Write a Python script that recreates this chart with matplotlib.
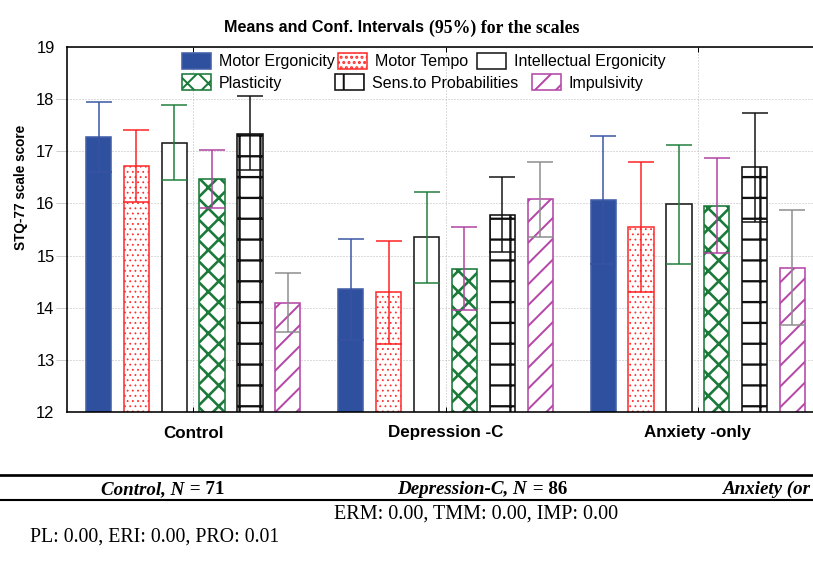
import matplotlib
matplotlib.use('Agg')
import matplotlib.pyplot as plt
import numpy as np
from matplotlib import font_manager as fm
from matplotlib.lines import Line2D

DPI = 125
W, H = 813, 566


def pt(px):
    return px * 72.0 / DPI


# ---------------- data ----------------
groups = ['Control', 'Depression -C', 'Anxiety -only']
scales = ['Motor Ergonicity', 'Motor Tempo', 'Intellectual Ergonicity',
          'Plasticity', 'Sens.to Probabilities', 'Impulsivity']

mean_me = [17.28, 14.35, 16.07]
mean_mt = [16.71, 14.30, 15.55]
mean_ie = [17.16, 15.35, 15.98]
mean_pl = [16.47, 14.75, 15.96]
mean_pro = [17.34, 15.78, 16.70]
mean_imp = [14.10, 16.08, 14.77]

upper_me = [17.95, 15.32, 17.30]
upper_mt = [17.41, 15.28, 16.80]
upper_ie = [17.88, 16.22, 17.12]
upper_pl = [17.02, 15.55, 16.87]
upper_pro = [18.06, 16.51, 17.74]
upper_imp = [14.67, 16.80, 15.87]

lower_me = [16.61, 13.38, 14.84]
lower_mt = [16.02, 13.30, 14.31]
lower_ie = [16.45, 14.47, 14.84]
lower_pl = [15.92, 13.96, 15.05]
lower_pro = [16.64, 15.06, 15.65]
lower_imp = [13.53, 15.36, 13.67]

yticks = [12, 13, 14, 15, 16, 17, 18, 19]

table_groups = ['Control,', 'Depression-C,', 'Anxiety (or']
table_n = ['71', '86']
note_1 = 'ERM: 0.00, TMM: 0.00, IMP: 0.00'
note_2 = 'PL: 0.00, ERI: 0.00, PRO: 0.01'

means = [mean_me, mean_mt, mean_ie, mean_pl, mean_pro, mean_imp]
uppers = [upper_me, upper_mt, upper_ie, upper_pl, upper_pro, upper_imp]
lowers = [lower_me, lower_mt, lower_ie, lower_pl, lower_pro, lower_imp]

# ---------------- fonts ----------------
names = {f.name for f in fm.fontManager.ttflist}
SANS = 'Liberation Sans' if 'Liberation Sans' in names else 'DejaVu Sans'
SERIF = 'Liberation Serif' if 'Liberation Serif' in names else 'DejaVu Serif'
NARROW = 'Liberation Sans Narrow' if 'Liberation Sans Narrow' in names else None

plt.rcParams['font.family'] = [SANS, 'DejaVu Sans']
plt.rcParams['hatch.linewidth'] = pt(2.3)

fig = plt.figure(figsize=(W / DPI, H / DPI), dpi=DPI)
ax = fig.add_axes([67 / W, 1 - 412 / H, (824 - 67) / W, 365 / H])

styles = [
    dict(fc='#2f4f9f', ec='#4460aa', hatch=None, ecol='#3754a3', hlw=pt(1.0)),
    dict(fc='white', ec='#ff3030', hatch='....', ecol='#ff2020', hlw=pt(0.9)),
    dict(fc='white', ec='#1a1a1a', hatch=None, ecol='#1e7d3c', hlw=pt(1.0)),
    dict(fc='white', ec='#1b7a3a', hatch='xx', ecol='#b040a0', hlw=pt(2.6)),
    dict(fc='white', ec='#111111', hatch='+', ecol='#111111', hlw=pt(2.3)),
    dict(fc='white', ec='#b548a8', hatch='//', ecol='#8c8c8c', hlw=pt(2.0)),
]

x = np.arange(len(groups))
step = 0.15
bw = 0.1
handles = []
for i, (m, lo, hi, st) in enumerate(zip(means, lowers, uppers, styles)):
    m = np.array(m)
    lo = np.array(lo)
    hi = np.array(hi)
    xs = x + (i - 2.5) * step
    with plt.rc_context({'hatch.linewidth': st['hlw']}):
        bc = ax.bar(xs, m, width=bw, color=st['fc'], edgecolor=st['ec'],
                    hatch=st['hatch'], linewidth=pt(1.6), zorder=2,
                    label=scales[i])
    for p in bc.patches:
        if hasattr(p, 'set_hatch_linewidth'):
            p.set_hatch_linewidth(st['hlw'])
    handles.append(bc)
    ax.errorbar(xs, m, yerr=[m - lo, hi - m], fmt='none', ecolor=st['ecol'],
                elinewidth=pt(1.5), capsize=pt(12.8), capthick=pt(1.5),
                zorder=3)

ax.set_xlim(-0.5, 2.5)
ax.set_ylim(12, 19)
ax.set_yticks(yticks)
ax.set_yticklabels([str(v) for v in yticks], fontsize=pt(16.5))
ax.set_xticks(x)
ax.set_xticklabels(groups, fontsize=pt(17), fontweight='bold')

ax.grid(True, color='#b8b8b8', linestyle=(0, (1, 2)), linewidth=pt(1.0), zorder=0)
ax.set_axisbelow(True)

ax.tick_params(axis='y', direction='out', length=pt(11), width=pt(1.0),
               color='#cfcfcf', pad=pt(1.5))
ax.tick_params(axis='x', direction='in', length=pt(5), width=pt(1.0),
               color='black', top=True, pad=pt(13.5))
yt = ax.yaxis.get_major_ticks()
yt[0].tick1line.set_visible(False)
yt[-1].tick1line.set_visible(False)

for s in ['left', 'top', 'bottom']:
    ax.spines[s].set_linewidth(pt(1.6))
    ax.spines[s].set_color('black')
ax.spines['right'].set_visible(False)

# legend: two rows laid out like the reference
fs_leg = 16.0
leg_pos = [(182, 61), (338, 61), (477, 61), (182, 82.5), (335, 82.5), (532, 82.5)]
for h, lab, (lx, ly) in zip(handles, scales, leg_pos):
    with plt.rc_context({'hatch.linewidth': pt(2.0)}):
        lg = fig.legend(handles=[h], labels=[lab], loc='center left',
                        bbox_to_anchor=(lx / W, 1 - ly / H),
                        bbox_transform=fig.transFigure, frameon=False,
                        borderpad=0, borderaxespad=0, fontsize=pt(fs_leg),
                        handlelength=29 / fs_leg, handleheight=18 / fs_leg,
                        handletextpad=8 / fs_leg)

# y label
if NARROW:
    fig.text(21 / W, 1 - 187.5 / H, 'STQ-77 scale score', rotation=90,
             ha='center', va='center', fontweight='bold', family=NARROW,
             fontsize=pt(15.6))
else:
    fig.text(21 / W, 1 - 187.5 / H, 'STQ-77 scale score', rotation=90,
             ha='center', va='center', fontweight='bold', family=SANS,
             fontsize=pt(13.6))

# title (two fonts)
if NARROW:
    fig.text(424 / W, 1 - 31.7 / H, 'Means and Conf. Intervals', ha='right',
             va='baseline', fontweight='bold', family=NARROW, fontsize=pt(19.5))
else:
    fig.text(424 / W, 1 - 31.7 / H, 'Means and Conf. Intervals', ha='right',
             va='baseline', fontweight='bold', family=SANS, fontsize=pt(16.1))
fig.text(429 / W, 1 - 33.3 / H, '(95%) for the scales', ha='left',
         va='baseline', fontweight='bold', family=SERIF, fontsize=pt(17.8))

# table fragment below the chart
fig.add_artist(Line2D([0, 1], [1 - 475 / H, 1 - 475 / H], transform=fig.transFigure,
                      color='black', linewidth=pt(2.7)))
fig.add_artist(Line2D([0, 1], [1 - 500 / H, 1 - 500 / H], transform=fig.transFigure,
                      color='black', linewidth=pt(2.1)))

renderer = fig.canvas.get_renderer()
head_fs = pt(19)
base_y = 1 - 494.3 / H


def head(cx, grp, n):
    t1 = fig.text(0, base_y, grp + ' N', ha='left', va='baseline', family=SERIF,
                  fontweight='bold', fontstyle='italic', fontsize=head_fs)
    t2 = fig.text(0, base_y, ' = ' + n, ha='left', va='baseline', family=SERIF,
                  fontweight='bold', fontsize=head_fs)
    w1 = t1.get_window_extent(renderer).width
    w2 = t2.get_window_extent(renderer).width
    x0 = cx - (w1 + w2) / 2.0
    t1.set_x(x0 / W)
    t2.set_x((x0 + w1 + 1) / W)


head(162, table_groups[0], table_n[0])
head(482, table_groups[1], table_n[1])
fig.text(723 / W, base_y, table_groups[2], ha='left', va='baseline',
         family=SERIF, fontweight='bold', fontstyle='italic', fontsize=head_fs)
fig.text(334 / W, 1 - 519 / H, note_1, ha='left', va='baseline',
         family=SERIF, fontsize=pt(20.1))
fig.text(30 / W, 1 - 541.7 / H, note_2, ha='left', va='baseline',
         family=SERIF, fontsize=pt(19.9))

fig.savefig('out.png', dpi=DPI)
